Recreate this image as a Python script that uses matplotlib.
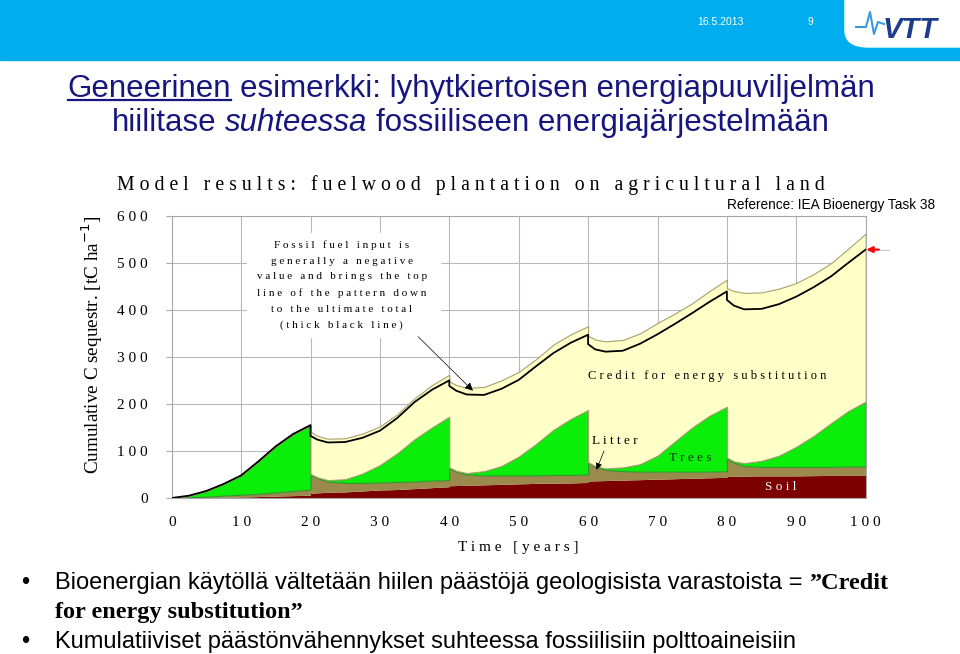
import matplotlib
matplotlib.use("Agg")
import matplotlib.pyplot as plt
from matplotlib.patches import Rectangle, FancyBboxPatch
from matplotlib.lines import Line2D

W, H = 960, 654

# years; a repeated year is the instant drop at harvest (20-year rotations)
years = [0, 2.5, 5, 7.5, 10, 12.5, 15, 17.5, 20,
         20, 21, 22.5, 25, 27.5, 30, 32.5, 35, 37.5, 40,
         40, 41, 42.5, 45, 47.5, 50, 52.5, 55, 57.5, 60,
         60, 61, 62.5, 65, 67.5, 70, 72.5, 75, 77.5, 80,
         80, 81, 82.5, 85, 87.5, 90, 92.5, 95, 97.5, 100]

# cumulative tops of each layer [tC/ha]
soil_top = [0, 0.5, 1, 1.5, 2, 3, 4, 5, 6,
            10, 11, 12, 13, 15, 17, 18, 20, 22, 24,
            26, 26.5, 27, 28, 29, 30, 31, 31.5, 32, 33,
            36, 36.5, 37, 38, 39, 40, 41, 42, 43, 44,
            46, 46, 46.5, 47, 47, 47, 47.5, 48, 48, 48]
litter_top = [0, 1.5, 3, 5, 7, 9, 12, 15, 18,
              49, 42, 35, 32, 32, 33, 34, 35, 37, 38,
              63, 56, 50, 48, 48, 48, 48, 49, 49, 50,
              74, 66, 60, 57, 56, 56, 56, 56, 56, 57,
              84, 75, 68, 66, 66, 66, 66, 66, 67, 67]
trees_top = [0, 5, 15, 30, 48, 78, 110, 136, 155,
             51, 44, 38, 40, 52, 70, 95, 125, 150, 173,
             65, 58, 53, 57, 68, 88, 115, 145, 168, 187,
             76, 68, 63, 65, 72, 90, 120, 150, 175, 194,
             86, 78, 74, 79, 90, 109, 132, 159, 185, 205]
credit_top = [0, 5, 15, 30, 48, 78, 110, 136, 155,
              141, 132, 126, 127, 137, 152, 178, 212, 240, 262,
              248, 240, 234, 236, 250, 268, 295, 326, 348, 365,
              345, 337, 333, 336, 350, 372, 392, 414, 440, 464,
              446, 440, 436, 437, 445, 457, 476, 499, 530, 562]
net_total = [0, 5, 15, 30, 48, 78, 110, 136, 155,
             132, 124, 118, 119, 128, 143, 170, 204, 230, 250,
             238, 228, 220, 219, 232, 251, 280, 308, 330, 347,
             327, 316, 311, 313, 328, 348, 370, 393, 417, 439,
             421, 409, 401, 402, 412, 428, 448, 471, 500, 528]

x_ticks = list(range(0, 101, 10))
y_ticks = list(range(0, 601, 100))

SERIF = "Liberation Serif"
SANS = "Liberation Sans"
NAVY = "#16167e"


def sp(s):
    # letter-spaced look of the original chart text
    return " ".join(s)


fig = plt.figure(figsize=(W / 100, H / 100), dpi=100)
fig.patch.set_facecolor("white")

# ---- slide header ----
fig.patches.append(Rectangle((0, 1 - 60 / H), 1, 60 / H, transform=fig.transFigure,
                             color="#00aeef", zorder=0))
fig.patches.append(FancyBboxPatch((845 / W, 1 - 47 / H), 0.3, 0.2,
                                  boxstyle="round,pad=0,rounding_size=0.025",
                                  transform=fig.transFigure, color="white", zorder=1))
fig.text(720 / W, 1 - 22 / H, "16.5.2013", color="white", fontsize=7.5,
         family=SANS, ha="center", va="center")
fig.text(810 / W, 1 - 22 / H, "9", color="white", fontsize=7.5,
         family=SANS, ha="center", va="center")
fig.text(910 / W, 1 - 30 / H, "VTT", color="#1d3c8c", fontsize=21,
         family=SANS, weight="bold", style="italic", ha="center", va="center")
px = [856, 866, 870, 874, 878, 884]
py = [27, 27, 12, 34, 22, 24]
fig.lines.append(Line2D([p / W for p in px], [1 - p / H for p in py],
                        transform=fig.transFigure, color="#3a9ad9", lw=1.5))

renderer = fig.canvas.get_renderer()


def width(s, kw):
    t = fig.text(0, 0, s, **kw)
    w = t.get_window_extent(renderer=renderer).width
    t.remove()
    return w


def line(pieces, y_base, x0=None, center=None):
    # pieces of differing style on one baseline, separated by a space
    kw0 = pieces[0][1]
    g = width("a a", kw0) - width("aa", kw0)
    ws = [width(s, kw) for s, kw in pieces]
    total = sum(ws) + g * (len(pieces) - 1)
    x = x0 if x0 is not None else center - total / 2
    boxes = []
    for (s, kw), w in zip(pieces, ws):
        fig.text(x / W, 1 - y_base / H, s, va="baseline", ha="left", **kw)
        boxes.append((x, x + w))
        x += w + g
    return boxes


tkw = dict(family=SANS, fontsize=22.5, color=NAVY)
bx = line([("Geneerinen", tkw), ("esimerkki: lyhytkiertoisen energiapuuviljelmän", tkw)],
          97, center=471)
fig.lines.append(Line2D([bx[0][0] / W, bx[0][1] / W], [1 - 100 / H, 1 - 100 / H],
                        transform=fig.transFigure, color=NAVY, lw=1.6))
line([("hiilitase", tkw), ("suhteessa", dict(tkw, style="italic")),
      ("fossiiliseen energiajärjestelmään", tkw)], 131, center=470)

# ---- bullets ----
bkw = dict(family=SANS, fontsize=17, color="black")
skw = dict(family=SERIF, fontsize=17.5, weight="bold", color="black")
fig.text(25 / W, 1 - 589 / H, "•", **bkw, va="baseline", ha="center")
line([("Bioenergian käytöllä vältetään hiilen päästöjä geologisista varastoista =", bkw),
      ("\u201dCredit", skw)], 589, x0=55)
line([("for energy substitution\u201d", skw)], 618, x0=55)
fig.text(25 / W, 1 - 648 / H, "•", **bkw, va="baseline", ha="center")
line([("Kumulatiiviset päästönvähennykset suhteessa fossiilisiin polttoaineisiin", bkw)],
     648, x0=55)

# ---- chart ----
ax = fig.add_axes([171.7 / W, 1 - 498 / H, 694 / W, 282.3 / H])
ax.set_xlim(0, 100)
ax.set_ylim(0, 600)

ax.fill_between(years, 0, soil_top, color="#7c0000", lw=0, zorder=2)
ax.fill_between(years, soil_top, litter_top, color="#9c8a4c", lw=0, zorder=2)
ax.fill_between(years, litter_top, trees_top, facecolor="#0aee0a",
                edgecolor="#2a9a2a", lw=0.8, zorder=2)
ax.fill_between(years, trees_top, credit_top, facecolor="#ffffc8",
                edgecolor="#a8a070", lw=0.8, zorder=2)
ax.plot(years, net_total, color="black", lw=1.3, zorder=3)

# white box behind the note
ax.add_patch(Rectangle((10.9, 343), 27.8, 221, color="white", zorder=1))
ax.text(24.5, 452, "\n".join(sp(s) for s in [
    "Fossil fuel input is",
    "generally a negative",
    "value and brings the top",
    "line of the pattern down",
    "to the ultimate total",
    "(thick black line)"]),
    family=SERIF, fontsize=8, ha="center", va="center", linespacing=1.95, zorder=4)
ax.annotate("", xy=(43.4, 228), xytext=(35.5, 343),
            arrowprops=dict(arrowstyle="-|>", color="black", lw=0.5,
                            mutation_scale=12, shrinkA=0, shrinkB=0), zorder=4)

ax.text(77.1, 260, sp("Credit for energy substitution"), family=SERIF, fontsize=9,
        ha="center", va="center", zorder=4)
ax.text(63.9, 122, sp("Litter"), family=SERIF, fontsize=9.5,
        ha="center", va="center", zorder=4)
ax.annotate("", xy=(61.2, 60), xytext=(62.3, 100),
            arrowprops=dict(arrowstyle="-|>", color="black", lw=0.5,
                            mutation_scale=10, shrinkA=0, shrinkB=0), zorder=4)
ax.text(74.7, 85, sp("Trees"), family=SERIF, fontsize=9.5, color="#003300",
        ha="center", va="center", zorder=4)
ax.text(87.8, 24, sp("Soil"), family=SERIF, fontsize=9.5, color="white",
        ha="center", va="center", zorder=4)

# red marker at the end of the net total
ax.plot([100, 103.4], [net_total[-1], net_total[-1]], color="#c8c8c8", lw=0.8,
        clip_on=False, zorder=3)
ax.annotate("", xy=(100.1, net_total[-1]), xytext=(101.9, net_total[-1]),
            arrowprops=dict(arrowstyle="-|>", color="red", lw=1.5,
                            mutation_scale=9, shrinkA=0, shrinkB=0),
            annotation_clip=False, zorder=4)

ax.set_xticks(x_ticks)
ax.set_yticks(y_ticks)
ax.set_xticklabels([sp(str(v)) for v in x_ticks])
ax.set_yticklabels([sp(str(v)) for v in y_ticks])
for lab in ax.get_xticklabels() + ax.get_yticklabels():
    lab.set_family(SERIF)
    lab.set_fontsize(11)
ax.tick_params(axis="x", length=0, pad=13)
ax.tick_params(axis="y", length=4, color="#a8a8a8", pad=13)
ax.grid(True, color="#b8b8b8", lw=0.8)
ax.set_axisbelow(True)
for s in ax.spines.values():
    s.set_color("#a8a8a8")
    s.set_linewidth(0.8)

fig.text(471 / W, 1 - 185 / H, sp("Model results: fuelwood plantation on agricultural land"),
         family=SERIF, fontsize=14.2, ha="center", va="center")
fig.text(935 / W, 1 - 205 / H, "Reference: IEA Bioenergy Task 38",
         family=SANS, fontsize=9.8, ha="right", va="center")
fig.text(92 / W, 1 - 345 / H, "Cumulative C sequestr. [tC ha$^{-1}$]",
         family=SERIF, fontsize=13.8, rotation=90, ha="center", va="center")
fig.text(518 / W, 1 - 548 / H, sp("Time [years]"), family=SERIF, fontsize=11,
         ha="center", va="center")

fig.savefig("out.png", dpi=100)
